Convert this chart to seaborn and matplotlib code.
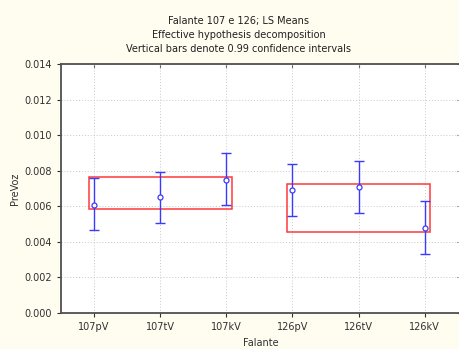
import matplotlib
matplotlib.use("Agg")
import matplotlib.pyplot as plt
from matplotlib.patches import Rectangle
import pandas as pd
import seaborn as sns

categories = ["107pV", "107tV", "107kV", "126pV", "126tV", "126kV"]
means = [0.00607, 0.00652, 0.00748, 0.00692, 0.00708, 0.00478]
ci_low = [0.00467, 0.00506, 0.00607, 0.00545, 0.00562, 0.00332]
ci_high = [0.00759, 0.00793, 0.00900, 0.00838, 0.00855, 0.00630]

# effective hypothesis boxes: (first category, last category, low, high)
groups = [("107pV", "107kV", 0.00585, 0.00765), ("126pV", "126kV", 0.00454, 0.00724)]

df = pd.DataFrame({"Falante": categories, "PreVoz": means})

sns.set_style("white")
plt.rcParams["font.family"] = ["DejaVu Sans"]

fig = plt.figure(figsize=(4.59, 3.49), dpi=100, facecolor="#fffcf0")
ax = fig.add_axes([61 / 459, 36 / 349, 400 / 459, 249 / 349])
ax.set_facecolor("white")

blue = "#3a3aff"
ax.errorbar(range(len(categories)), means,
            yerr=[[m - lo for m, lo in zip(means, ci_low)],
                  [hi - m for m, hi in zip(means, ci_high)]],
            fmt="none", ecolor=blue, elinewidth=1.0, capsize=3.5, capthick=1.0, zorder=3)
sns.scatterplot(data=df, x="Falante", y="PreVoz", ax=ax, marker="o", s=13,
                facecolor="white", edgecolor=blue, linewidth=0.9, zorder=4)

for first, last, lo, hi in groups:
    i0, i1 = categories.index(first), categories.index(last)
    ax.add_patch(Rectangle((i0 - 0.08, lo), (i1 - i0) + 0.16, hi - lo,
                           fill=False, edgecolor="#ff3838", linewidth=1.1, zorder=2))

ax.set_xlim(-0.5, 5.55)
ax.set_ylim(0, 0.014)
ax.set_yticks([0.000, 0.002, 0.004, 0.006, 0.008, 0.010, 0.012, 0.014])
ax.set_yticklabels([f"{v:.3f}" for v in ax.get_yticks()])
ax.grid(True, linestyle=(0, (1, 2)), color="#c8c8c8", linewidth=0.7)
ax.set_axisbelow(True)

for s in ["left", "bottom", "top"]:
    ax.spines[s].set_color("#505050")
    ax.spines[s].set_linewidth(1.3)
ax.spines["right"].set_visible(False)

ax.tick_params(axis="both", labelsize=7, colors="#303030", length=3, width=0.8,
               direction="out", left=True, bottom=True)
top = ax.secondary_xaxis("top")
top.set_xticks(range(len(categories)))
top.tick_params(direction="in", length=3, labeltop=False, colors="#505050")
top.spines["top"].set_visible(False)
right = ax.secondary_yaxis("right")
right.set_yticks(ax.get_yticks())
right.tick_params(direction="in", length=3, labelright=False, colors="#505050")

ax.set_xlabel("Falante", fontsize=7, color="#303030", labelpad=4)
ax.set_ylabel("PreVoz", fontsize=7, color="#303030", labelpad=3)

fig.text(239 / 459, 1 - 35 / 349,
         "Falante 107 e 126; LS Means\nEffective hypothesis decomposition\nVertical bars denote 0.99 confidence intervals",
         ha="center", va="center", fontsize=7, color="#202020", linespacing=1.45)

fig.savefig("out.png", dpi=100, facecolor=fig.get_facecolor())
